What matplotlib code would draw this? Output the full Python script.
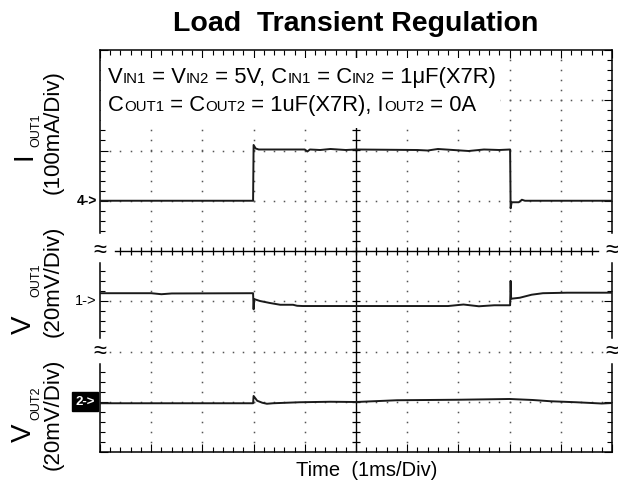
import numpy as np
import matplotlib
matplotlib.use('Agg')
import matplotlib.pyplot as plt
from matplotlib.patches import Rectangle

plt.rcParams['font.family'] = ['Liberation Sans', 'DejaVu Sans']

W, H = 618, 495

# scope traces (time in ms, 1ms/div)
t_iout1 = [0, 2.99, 3.0, 3.04, 3.1, 4.0, 4.05, 4.1, 4.3, 4.5, 4.8, 5.0, 6.2, 6.4, 6.6, 6.9, 7.2, 7.5, 7.8, 8.01, 8.02, 8.04, 8.18, 8.24, 8.3, 10]
iout1_ma = [0, 0, 111, 104, 102, 102, 98, 102, 101, 103, 101, 102, 101, 100, 103, 101, 99, 102, 101, 102, -15, -3, -3, 2, 0, 0]

t_vout1 = [0, 1.0, 1.2, 1.4, 2.99, 3.0, 3.01, 3.02, 3.125, 3.32, 3.52, 3.77, 3.85, 3.96, 6.8, 7.1, 7.4, 7.7, 8.01, 8.02, 8.03, 8.2, 8.43, 8.65, 9.12, 10]
vout1_mv = [3.2, 3.2, 2.8, 3.1, 3.2, -3.2, 0.8, 0.8, 0.1, -0.7, -1.4, -1.4, -1.8, -1.9, -1.9, -1.3, -2.0, -1.6, -1.6, 8.1, 1.0, 1.4, 2.6, 3.2, 3.4, 3.4]

t_vout2 = [0, 2.99, 3.0, 3.07, 3.17, 3.26, 3.38, 3.9, 4.5, 5.0, 5.8, 7.0, 8.0, 8.45, 8.8, 9.3, 9.8, 10]
vout2_mv = [-0.6, -0.6, 2.3, 0.4, -0.4, -0.8, -0.6, -0.2, 0.0, -0.1, 0.6, 0.8, 1.1, 0.7, 0.2, -0.2, -0.7, -0.5]

# channel reference levels (div) and scales
ch_ref = {'I1': 5, 'V1': 3, 'V2': 1}
ma_per_div = 100
mv_per_div = 20

fig = plt.figure(figsize=(W / 100, H / 100), dpi=100)
ax = fig.add_axes([100 / W, 1 - 452 / H, 512 / W, 402 / H])
ax.set_xlim(0, 10)
ax.set_ylim(0, 8)

# dotted graticule
dot = dict(ls='none', marker='s', ms=1.1, color='#555555', mec='none')
for gy in [1, 2, 3, 5, 6, 7]:
    xs = np.arange(0.2, 10, 0.2)
    ax.plot(xs, np.full_like(xs, gy), **dot)
for gx in [1, 2, 3, 4, 6, 7, 8, 9]:
    ys = np.arange(0.2, 8, 0.2)
    ax.plot(np.full_like(ys, gx), ys, **dot)

# center axes with cross ticks
ax.plot([0.29, 9.73], [4, 4], color='k', lw=1.0)
cx = np.arange(0.4, 9.7, 0.2)
ax.plot(cx, np.full_like(cx, 4), ls='none', marker='|', ms=6, mew=0.9, color='k')
ax.plot([5, 5], [0, 8], color='k', lw=1.0)
cy = np.arange(0.2, 8, 0.2)
ax.plot(np.full_like(cy, 5), cy, ls='none', marker='_', ms=6, mew=0.9, color='k')

# white panel behind the test conditions
ax.add_patch(Rectangle((0.02, 6.45), 7.8, 1.39, fc='white', ec='none', zorder=2.2))

# frame, broken on the sides
for s in ['left', 'right']:
    ax.spines[s].set_visible(False)
for s in ['top', 'bottom']:
    ax.spines[s].set_linewidth(1.1)
segs = [(0, 1.76), (2.26, 3.76), (4.36, 8)]
for x0 in [0, 10]:
    for a, b in segs:
        ax.plot([x0, x0], [a, b], color='k', lw=1.1, clip_on=False)

def in_gap(v):
    return (1.7 < v < 2.3) or (3.7 < v < 4.3)

ax.set_xticks(np.arange(0, 11, 1))
ax.set_xticks(np.arange(0, 10.01, 0.2), minor=True)
ax.set_yticks([v for v in range(9) if not in_gap(v)])
ax.set_yticks([v for v in np.arange(0, 8.01, 0.2) if not in_gap(v)], minor=True)
ax.tick_params(which='both', direction='in', top=True, right=True,
               labelleft=False, labelbottom=False, width=0.8, color='k')
ax.tick_params(which='major', length=5.5)
ax.tick_params(which='minor', length=3.5)

# traces
trace = dict(color='#1a1a1a', lw=1.4, zorder=3)
ax.plot(t_iout1, ch_ref['I1'] + np.array(iout1_ma) / ma_per_div, **trace)
ax.plot(t_vout1, ch_ref['V1'] + np.array(vout1_mv) / mv_per_div, **trace)
ax.plot(t_vout2, ch_ref['V2'] + np.array(vout2_mv) / mv_per_div, **trace)

# break marks
for x0 in [0, 10]:
    for y0 in [2, 4]:
        ax.text(x0, y0, '\u2248', fontsize=17, ha='center', va='center',
                clip_on=False, zorder=5)

# channel markers
ax.text(-0.06, ch_ref['I1'], '4->', fontsize=10, fontweight='bold', ha='right', va='center')
ax.text(-0.06, ch_ref['V1'], '1->', fontsize=10.5, ha='right', va='center')
ax.text(-0.1, ch_ref['V2'], '2->', fontsize=9.5, fontweight='bold', color='white', ha='right', va='center',
        bbox=dict(boxstyle='square,pad=0.25', fc='black', ec='black'))

def fx(x):
    return x / W

def fy(y):
    return 1 - y / H

# title and x label
fig.text(fx(356), fy(24), 'Load  Transient Regulation', fontsize=20.5, fontweight='bold',
         ha='center', va='center')
fig.text(fx(367), fy(470), 'Time  (1ms/Div)', fontsize=14.5, ha='center', va='center')

# y labels
ylabels = [('I', 'OUT1', '(100mA/Div)', 156, 130, 132),
           ('V', 'OUT1', '(20mV/Div)', 325, 280, 281),
           ('V', 'OUT2', '(20mV/Div)', 433, 403, 414)]
for big, sub, unit, yb, ys, yu in ylabels:
    fig.text(fx(24), fy(yb), big, fontsize=20, rotation=90, ha='center', va='center')
    fig.text(fx(36), fy(ys), sub, fontsize=9, rotation=90, ha='center', va='center')
    fig.text(fx(53.5), fy(yu), unit, fontsize=16, rotation=90, ha='center', va='center')

# test condition text with small-size suffixes
def rich(x, y, parts, big=15.8, small=10.8):
    r = fig.canvas.get_renderer()
    xx = x
    for s, sm in parts:
        t = fig.text(fx(xx), fy(y), s, fontsize=small if sm else big, ha='left', va='baseline')
        xx += t.get_window_extent(r).width

rich(108, 83, [('V', 0), ('IN1', 1), (' = V', 0), ('IN2', 1), (' = 5V, C', 0), ('IN1', 1),
               (' = C', 0), ('IN2', 1), (' = 1\u03bcF(X7R)', 0)])
rich(108, 111, [('C', 0), ('OUT1', 1), (' = C', 0), ('OUT2', 1), (' = 1uF(X7R), I', 0),
                ('OUT2', 1), (' = 0A', 0)])

fig.savefig('out.png', dpi=100)
